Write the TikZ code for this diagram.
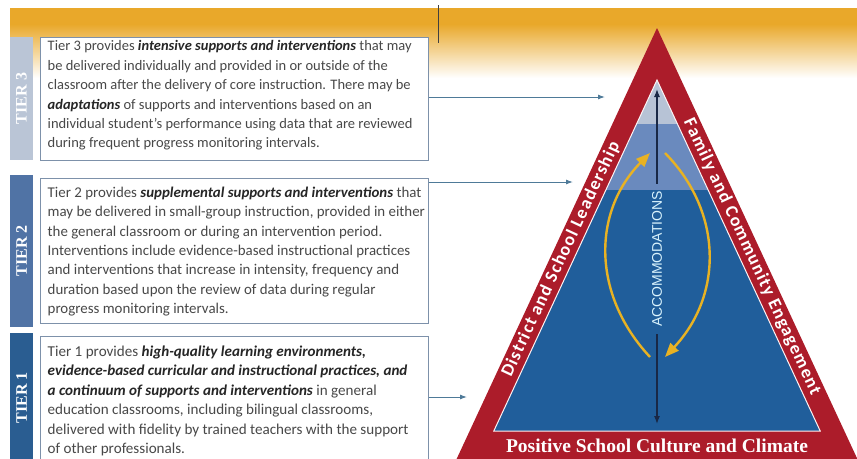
\documentclass[tikz,border=0pt]{standalone}
\usepackage{fontspec}
\setmainfont{Carlito}
\newfontfamily\tierfont{Liberation Serif}
\newfontfamily\capsfont{Liberation Sans}
\newfontfamily\bandfont[LetterSpace=7]{Carlito}
\usetikzlibrary{arrows.meta, positioning}

\definecolor{bandgold}{RGB}{233,168,42}
\definecolor{pyrred}{RGB}{172,28,42}
\definecolor{tierlight}{RGB}{183,195,214}
\definecolor{tiermid}{RGB}{106,138,190}
\definecolor{tierdark}{RGB}{32,94,155}
\definecolor{stripthree}{RGB}{186,197,214}
\definecolor{striptwo}{RGB}{80,115,165}
\definecolor{stripone}{RGB}{42,93,145}
\definecolor{boxline}{RGB}{125,145,170}
\definecolor{linkblue}{RGB}{78,122,152}
\definecolor{accnavy}{RGB}{25,40,70}
\definecolor{accgold}{RGB}{232,178,35}
\definecolor{bodygrey}{RGB}{72,72,72}
\definecolor{emgrey}{RGB}{38,38,38}
\newcommand{\tieremph}[1]{{\bfseries\itshape\color{emgrey}#1}}

\begin{document}
\begin{tikzpicture}[x=1pt,y=-1pt]
\tikzstyle{tierbox}=[draw=boxline, line width=1pt, fill=white, minimum width=388pt]
\tikzstyle{tiertext}=[anchor=west, inner sep=0pt, align=left, text=bodygrey]
\tikzstyle{tierstrip}=[rotate=90, minimum height=23pt, inner sep=0pt, text=white, font=\tierfont\bfseries\fontsize{16}{16}\selectfont]
\tikzstyle{link}=[draw=linkblue, line width=1pt, -{Latex[length=7pt,width=5pt]}]
\tikzstyle{sidetext}=[text=white, font=\bandfont\bfseries\fontsize{18}{18}\selectfont]
\tikzstyle{cycle}=[draw=accgold, line width=2.4pt, -{Triangle[length=14pt,width=11pt]}]
\useasboundingbox (0,0) rectangle (857,458);

\fill[bandgold] (10,8) rectangle (857,24);
\shade[top color=bandgold, bottom color=white] (10,24) rectangle (857,78);
\draw[line width=1pt, black!75] (438,5) -- (438,43);

\node[tierstrip, fill=stripthree, minimum width=123pt] (s3) at (21.5,98.5) {TIER 3};
\node[tierstrip, fill=striptwo, minimum width=152pt] (s2) at (21.5,251) {TIER 2};
\node[tierstrip, fill=stripone, minimum width=130pt] (s1) at (21.5,398) {TIER 1};

\node[tierbox, minimum height=123pt] (t3) at (234,98.5) {};
\node[tierbox, minimum height=145pt] (t2) at (234,250.5) {};
\node[tierbox, minimum height=130pt] (t1) at (234,401) {};

\node[tiertext, right=8pt of t3.west, yshift=3pt, font=\fontsize{14.5}{19.4}\selectfont] (d3) {Tier 3 provides \tieremph{intensive supports and interventions} that may\\
be delivered individually and provided in or outside of the\\
classroom after the delivery of core instruction. There may be\\
\tieremph{adaptations} of supports and interventions based on an\\
individual student's performance using data that are reviewed\\
during frequent progress monitoring intervals.};
\node[tiertext, right=8pt of t2.west, yshift=-1pt, font=\fontsize{14.9}{19.3}\selectfont] (d2) {Tier 2 provides \tieremph{supplemental supports and interventions} that\\
may be delivered in small-group instruction, provided in either\\
the general classroom or during an intervention period.\\
Interventions include evidence-based instructional practices\\
and interventions that increase in intensity, frequency and\\
duration based upon the review of data during regular\\
progress monitoring intervals.};
\node[tiertext, right=8pt of t1.west, font=\fontsize{15.1}{19.4}\selectfont] (d1) {Tier 1 provides \tieremph{high-quality learning environments,}\\
\tieremph{evidence-based curricular and instructional practices, and}\\
\tieremph{a continuum of supports and interventions} in general\\
education classrooms, including bilingual classrooms,\\
delivered with fidelity by trained teachers with the support\\
of other professionals.};

\coordinate (apex) at (657,28);
\coordinate (top) at (657,80);
\coordinate (bl) at (493.8,431);
\coordinate (br) at (820.2,431);
\fill[pyrred] (apex) -- (862.5,470) -- (451.5,470) -- cycle;
\begin{scope}
\clip (top) -- (br) -- (bl) -- cycle;
\fill[tierdark] (480,80) rectangle (840,431);
\fill[tierlight] (480,80) rectangle (840,124);
\fill[tiermid] (480,124) rectangle (840,190);
\end{scope}
\draw[white!80!pink, line width=1pt] (top) -- (br) -- (bl) -- cycle;

\coordinate (in3) at (605,97);
\coordinate (in2) at (573,182);
\coordinate (in1) at (467,397);
\draw[link] (in3 -| t3.east) -- (in3);
\draw[link] (in2 -| t2.east) -- (in2);
\draw[link] (in1 -| t1.east) -- (in1);

\node[rotate=90, inner xsep=7pt, text=white!85!cyan, font=\capsfont\fontsize{14}{14}\selectfont] (acc) at (657,259) {ACCOMMODATIONS};
\coordinate (accup) at (657,89);
\coordinate (accdown) at (657,424);
\draw[accnavy, line width=1.2pt, -{Latex[length=8pt,width=6pt]}] (acc.east) -- (accup);
\draw[accnavy, line width=1.2pt, -{Latex[length=8pt,width=6pt]}] (acc.west) -- (accdown);

\draw[cycle] (650,357) .. controls (592,295) and (592,212) .. (650,153);
\draw[cycle] (665,153) .. controls (723,212) and (723,295) .. (665,357);

\node[sidetext, rotate=65] (lead) at (561,259) {District and School Leadership};
\node[sidetext, rotate=-65] (family) at (752,257) {Family and Community Engagement};
\node[text=white, font=\tierfont\bfseries\fontsize{19.5}{19.5}\selectfont] (culture) at (657,446) {Positive School Culture and Climate};
\end{tikzpicture}
\end{document}
